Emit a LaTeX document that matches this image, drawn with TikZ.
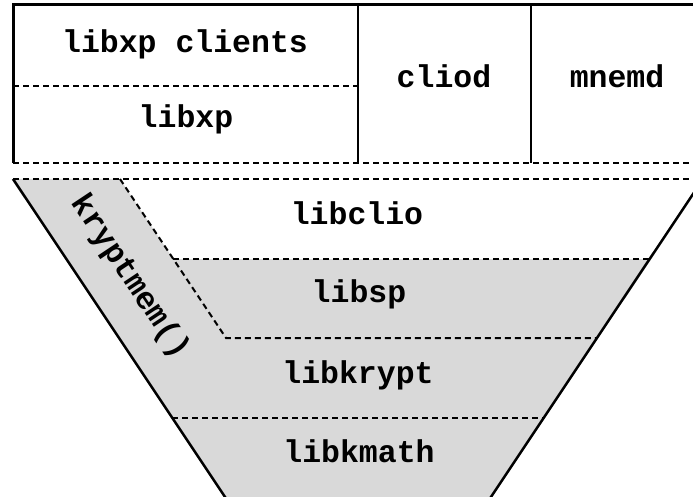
\documentclass[tikz,border=0pt]{standalone}
\usepackage{fontspec}
\setmonofont{Liberation Mono}
\begin{document}
\begin{tikzpicture}[x=1pt,y=-1pt,
  lbl/.style={font=\ttfamily\bfseries\fontsize{31.5}{36}\selectfont,anchor=base,inner sep=0pt},
  sep/.style={dash pattern=on 6pt off 4pt,line width=2pt},
  edge/.style={line width=2.5pt}]
\clip (0,0) rectangle (693,497);
\coordinate (FL) at (13,179);
\coordinate (FR) at (703,179);
\coordinate (BL) at (233.7,510);
\coordinate (BR) at (482.3,510);
\coordinate (K) at (120,179);
\coordinate (K1) at (173.3,259);
\coordinate (K2) at (226,338);
\coordinate (R1) at (649.7,259);
\coordinate (R2) at (597,338);
\coordinate (L3) at (172.3,418);
\coordinate (R3) at (543.7,418);
% shaded part of the funnel
\fill [black!15] (FL) -- (K) -- (K1) -- (R1) -- (BR) -- (BL) -- cycle;
% top row
\draw [line width=3pt] (13,163) -- (13,5) -- (710,5);
\draw [line width=2pt] (358,5) -- (358,163);
\draw [line width=2pt] (531,5) -- (531,163);
\draw [sep] (13,86) -- (358,86);
\draw [sep] (13,163) -- (710,163);
% funnel
\draw [sep] (FL) -- (710,179);
\draw [sep] (K) -- (K1) -- (K2) -- (R2);
\draw [sep] (K1) -- (R1);
\draw [sep] (L3) -- (R3);
\draw [edge] (FL) -- (BL);
\draw [edge] (FR) -- (BR);
% labels
\node [lbl] (clients) at (185,53) {libxp clients};
\node [lbl] (libxp) at (186,128) {libxp};
\node [lbl] (cliod) at (444,88) {cliod};
\node [lbl] (mnemd) at (617,88) {mnemd};
\node [lbl] (libclio) at (357,225) {libclio};
\node [lbl] (libsp) at (359,302) {libsp};
\node [lbl] (libkrypt) at (358,383) {libkrypt};
\node [lbl] (libkmath) at (359,462) {libkmath};
\node [lbl,anchor=center,rotate=-56.3] (kmem) at (130,277) {kryptmem()};
\end{tikzpicture}
\end{document}
